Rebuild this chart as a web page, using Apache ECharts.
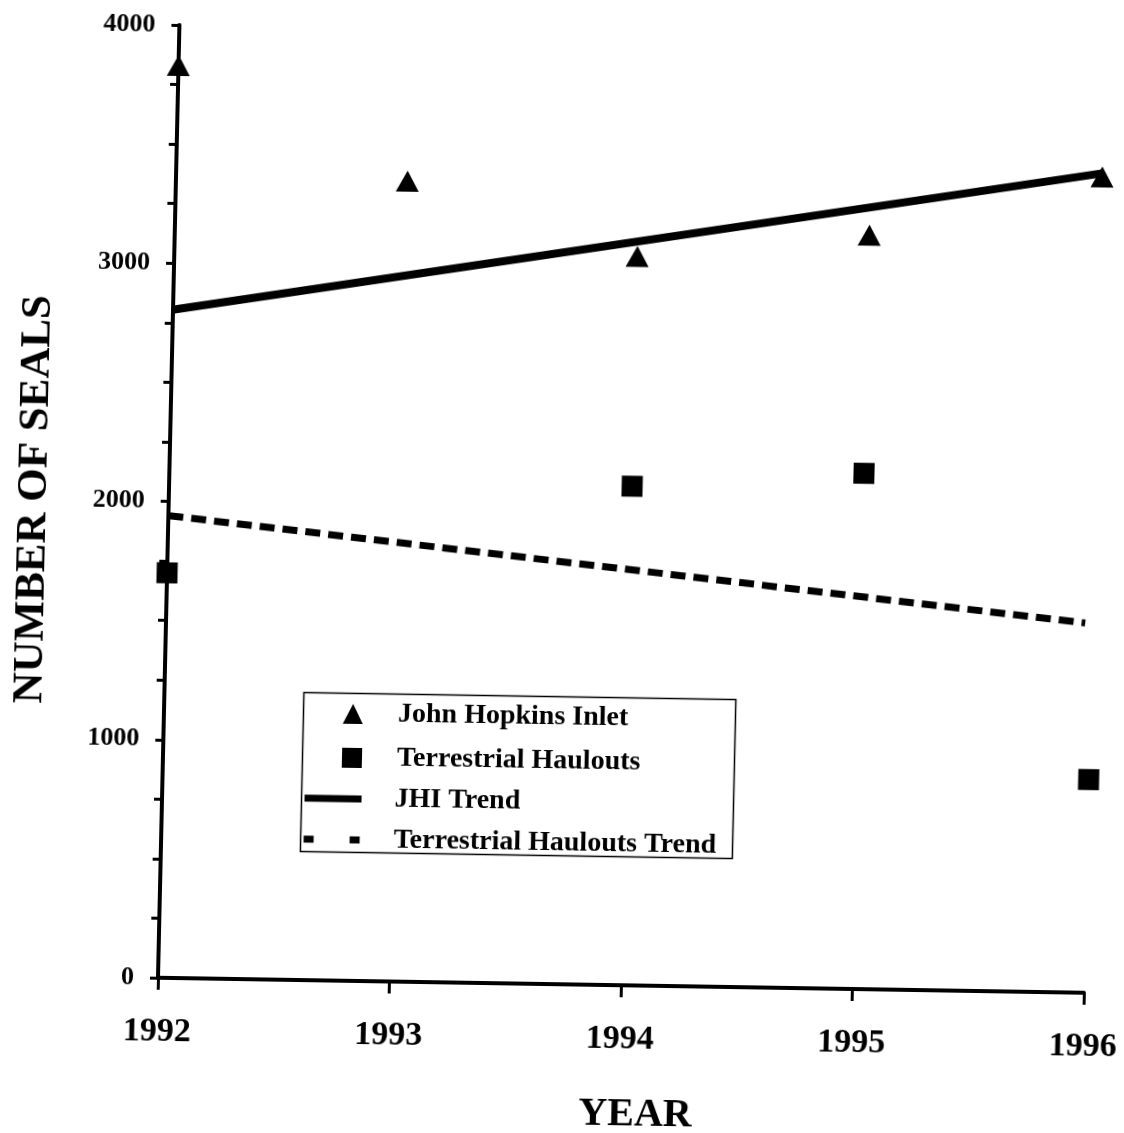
<!DOCTYPE html>
<html>
<head>
<meta charset="utf-8">
<title>Number of seals 1992-1996</title>
<script src="https://cdn.jsdelivr.net/npm/echarts@6/dist/echarts.min.js"></script>
<style>
  html, body { margin: 0; padding: 0; background: #fff; overflow: hidden; }
  /* the scanned figure is slightly skewed, so tilt the whole chart a little */
  #chart {
    width: 1124px;
    height: 1133px;
    transform-origin: 158px 978px;
    transform: matrix(1, 0.0162, -0.0225, 1, 0, 0);
  }
</style>
</head>
<body>
<div id="chart"></div>
<script>
const years = [1992, 1993, 1994, 1995, 1996];
const jhiCounts = [3830, 3360, 3060, 3165, 3425];
const haulYears = [1992, 1994, 1995, 1996];
const haulCounts = [1700, 2095, 2165, 895];
const jhiTrendYears = [1992, 1996];
const jhiTrendValues = [2805, 3440];
const haulTrendYears = [1992, 1995.97];
const haulTrendValues = [1940, 1552];

const FONT = 'Liberation Serif';
const pairs = (xs, ys) => xs.map((x, i) => [x, ys[i]]);

const chart = echarts.init(document.getElementById('chart'));

const legendText = pad => ({
  fontFamily: FONT, fontWeight: 'bold', fontSize: 28, color: '#000', padding: [0, 0, 0, pad]
});

const option = {
  backgroundColor: '#fff',
  animation: false,
  textStyle: { fontFamily: FONT, fontWeight: 'bold', color: '#000' },
  grid: { left: 158, top: 25, width: 926, height: 953, outerBoundsMode: 'none' },
  xAxis: {
    type: 'value',
    min: 1992,
    max: 1996,
    interval: 1,
    name: 'YEAR',
    nameLocation: 'middle',
    nameGap: 110,
    nameTextStyle: { fontFamily: FONT, fontWeight: 'bold', fontSize: 40, color: '#000', padding: [0, 0, 0, 34] },
    axisLine: { lineStyle: { color: '#000', width: 4 } },
    axisTick: { length: 12, lineStyle: { color: '#000', width: 3 } },
    axisLabel: {
      margin: 37,
      fontFamily: FONT, fontWeight: 'bold', fontSize: 34, color: '#000',
      formatter: v => String(v)
    },
    splitLine: { show: false }
  },
  yAxis: {
    type: 'value',
    min: 0,
    max: 4000,
    interval: 1000,
    name: 'NUMBER OF SEALS',
    nameLocation: 'middle',
    nameGap: 113,
    nameTextStyle: { fontFamily: FONT, fontWeight: 'bold', fontSize: 43, color: '#000' },
    axisLine: { show: true, lineStyle: { color: '#000', width: 4 } },
    axisTick: { show: true, length: 8, lineStyle: { color: '#000', width: 3 } },
    minorTick: { show: true, splitNumber: 4, length: 8, lineStyle: { color: '#000', width: 3 } },
    axisLabel: {
      margin: 24,
      fontFamily: FONT, fontWeight: 'bold', fontSize: 26, color: '#000',
      formatter: v => String(v)
    },
    splitLine: { show: false }
  },
  legend: [
    {
      orient: 'vertical',
      left: 337,
      top: 697,
      padding: 0,
      itemWidth: 20,
      itemHeight: 20,
      itemGap: 16,
      selectedMode: false,
      data: [
        { name: 'John Hopkins Inlet', icon: 'triangle' },
        { name: 'Terrestrial Haulouts', icon: 'rect' }
      ],
      textStyle: legendText(30)
    },
    {
      orient: 'vertical',
      left: 297,
      top: 782,
      padding: 0,
      itemWidth: 57,
      itemHeight: 20,
      itemGap: 13,
      selectedMode: false,
      data: [
        { name: 'JHI Trend', itemStyle: { opacity: 0 }, lineStyle: { width: 7, color: '#000' } },
        {
          name: 'Terrestrial Haulouts Trend',
          itemStyle: { opacity: 0 },
          lineStyle: { width: 7, color: '#000', type: [10, 36] }
        }
      ],
      textStyle: legendText(28)
    }
  ],
  // frame around the legend
  graphic: [
    {
      type: 'rect',
      left: 295,
      top: 688,
      shape: { width: 432, height: 159 },
      style: { fill: 'none', stroke: '#000', lineWidth: 1.5 },
      silent: true
    }
  ],
  series: [
    {
      name: 'JHI Trend',
      type: 'line',
      data: pairs(jhiTrendYears, jhiTrendValues),
      symbol: 'none',
      lineStyle: { color: '#000', width: 8 },
      itemStyle: { color: '#000' },
      z: 2
    },
    {
      name: 'Terrestrial Haulouts Trend',
      type: 'line',
      data: pairs(haulTrendYears, haulTrendValues),
      symbol: 'none',
      lineStyle: { color: '#000', width: 7, type: [15, 8] },
      itemStyle: { color: '#000' },
      z: 2
    },
    {
      name: 'John Hopkins Inlet',
      type: 'scatter',
      data: pairs(years, jhiCounts),
      symbol: 'triangle',
      symbolSize: [23, 21],
      itemStyle: { color: '#000', opacity: 1 },
      clip: false,
      z: 3
    },
    {
      name: 'Terrestrial Haulouts',
      type: 'scatter',
      data: pairs(haulYears, haulCounts),
      symbol: 'rect',
      symbolSize: 21,
      itemStyle: { color: '#000', opacity: 1 },
      clip: false,
      z: 3
    }
  ]
};

chart.setOption(option);
window.addEventListener('resize', () => chart.resize());
</script>
</body>
</html>
